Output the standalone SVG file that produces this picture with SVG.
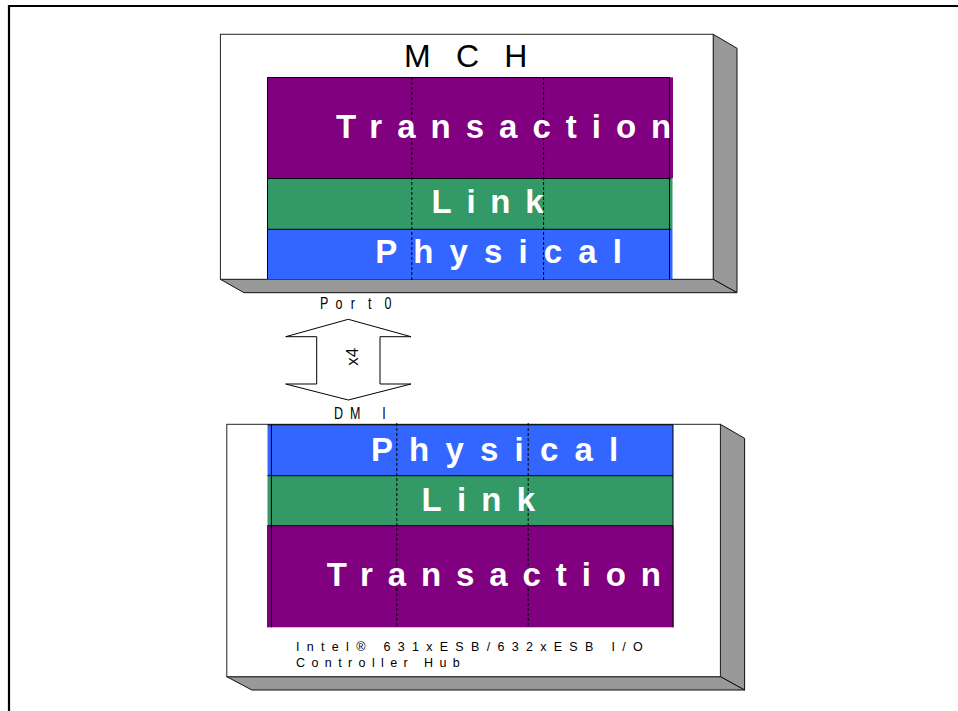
<svg xmlns="http://www.w3.org/2000/svg" width="958" height="711" viewBox="0 0 958 711">
<style>
.face{fill:#ffffff;stroke:#222;stroke-width:1}
.side{fill:#999999;stroke:#111;stroke-width:1}
.trans{fill:#800080}
.link{fill:#339966}
.phys{fill:#3366FF}
.edge{fill:none;stroke:#000;stroke-width:1}
.dash{stroke:#000;stroke-width:1;stroke-dasharray:3 2;fill:none}
.big{font-family:"Liberation Sans",Arial,sans-serif;font-weight:bold;fill:#fff;font-size:33px}
.lbl{font-family:"Liberation Sans",Arial,sans-serif;fill:#000}
.arrow{fill:#fff;stroke:#000;stroke-width:1}
</style>
<rect x="0" y="0" width="958" height="711" fill="#fff"/>
<g id="frame">
<line x1="8" y1="6" x2="958" y2="6" stroke="#000" stroke-width="2.2"/>
<line x1="9" y1="5" x2="9" y2="711" stroke="#000" stroke-width="2.2"/>
</g>

<g id="mch">
<polygon class="side" points="713.2,34.3 737,48.3 737,292.7 713.2,279.3"/>
<polygon class="side" points="220.4,279.3 713.2,279.3 737,292.7 244,292.7"/>
<rect class="face" x="220.4" y="34.3" width="492.8" height="245"/>
<text class="lbl" x="404" y="66.7" font-size="32" letter-spacing="25.3">MCH</text>
<g id="mch-layers">
<rect class="trans" x="267" y="77.3" width="406" height="101"/>
<rect class="link" x="267.5" y="178.3" width="405" height="50.7"/>
<rect class="phys" x="267.5" y="229" width="405" height="50.3"/>
<path class="edge" d="M267.5,77.5H669.5M267.5,178.5H671M267.5,229.3H671M267.5,77.5V279M669.5,77.5V279"/>
<path class="dash" d="M411.8,77V281M543.6,77V281"/>
<text class="big" x="336" y="138.3" letter-spacing="15">Transaction</text>
<text class="big" x="431.6" y="213.3" letter-spacing="14.7">Link</text>
<text class="big" x="375.2" y="263.3" letter-spacing="16.1">Physical</text>
</g>
</g>

<g id="ich">
<polygon class="side" points="720.4,424.3 744.6,438.3 744.6,690 720.4,676.7"/>
<polygon class="side" points="226.8,676.7 720.4,676.7 744.6,690 251.8,690"/>
<rect class="face" x="226.8" y="424.3" width="493.6" height="252.4"/>
<g id="ich-layers">
<rect class="phys" x="267.5" y="425" width="405.5" height="50.7"/>
<rect class="link" x="267.5" y="475.7" width="405.5" height="50"/>
<rect class="trans" x="267" y="525.7" width="406.5" height="101.6"/>
<path class="edge" d="M267.5,424.8H673M267.5,475.7H673M267.5,525.7H673M673,424.8V627.3M271.4,424.8V627.3"/>
<path class="dash" d="M396.8,423V627M528.2,423V627"/>
<text class="big" x="370.9" y="461" letter-spacing="16.2">Physical</text>
<text class="big" x="421.6" y="510.7" letter-spacing="15.2">Link</text>
<text class="big" x="326.8" y="585.7" letter-spacing="14.9">Transaction</text>
</g>
<text class="lbl" x="296" y="650.7" font-size="12.5" letter-spacing="7.3">Intel® 631xESB/632xESB I/O</text>
<text class="lbl" x="296" y="666.7" font-size="12.5" letter-spacing="6.4">Controller Hub</text>
</g>

<g id="connectors">
<g id="dmi-link">
<polygon class="arrow" points="285.7,336.7 348.3,319.3 411,336.7 380,336.7 380,384 411,384 348.3,400 285.7,384 316.7,384 316.7,336.7"/>
<text class="lbl" x="358.3" y="356.7" font-size="17" text-anchor="middle" transform="rotate(-90 358.3 356.7)">x4</text>
</g>
<text class="lbl" transform="scale(1,1.25)" x="320 335.5 350.8 368 375 384.5" y="247.4" font-size="12.5">Port 0</text>
<text class="lbl" transform="scale(1,1.25)" x="334 350.1 382.2" y="335.4" font-size="12.5">DMI</text>
</g>
</svg>
